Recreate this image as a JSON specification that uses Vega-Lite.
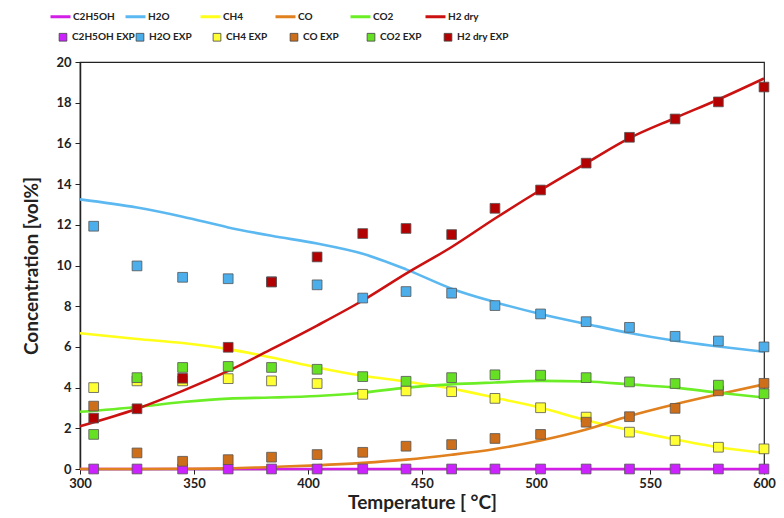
{
  "$schema": "https://vega.github.io/schema/vega-lite/v6.json",
  "width": 684,
  "height": 407,
  "autosize": "none",
  "padding": {"left": 80, "top": 62, "right": 20, "bottom": 49},
  "background": "white",
  "config": {
    "view": {"stroke": "#222", "strokeWidth": 1.2},
    "font": "Lato"
  },
  "datasets": {
    "model": [
      {"T": 300, "v": 0, "s": "C2H5OH"}, {"T": 450, "v": 0, "s": "C2H5OH"}, {"T": 600, "v": 0, "s": "C2H5OH"},
      {"T": 300, "v": 13.25, "s": "H2O"}, {"T": 325, "v": 12.85, "s": "H2O"}, {"T": 345, "v": 12.4, "s": "H2O"}, {"T": 365, "v": 11.87, "s": "H2O"}, {"T": 384, "v": 11.46, "s": "H2O"}, {"T": 404, "v": 11.08, "s": "H2O"}, {"T": 424, "v": 10.58, "s": "H2O"}, {"T": 443, "v": 9.81, "s": "H2O"}, {"T": 463, "v": 8.86, "s": "H2O"}, {"T": 482, "v": 8.2, "s": "H2O"}, {"T": 502, "v": 7.62, "s": "H2O"}, {"T": 522, "v": 7.13, "s": "H2O"}, {"T": 541, "v": 6.68, "s": "H2O"}, {"T": 561, "v": 6.3, "s": "H2O"}, {"T": 580, "v": 6.02, "s": "H2O"}, {"T": 600, "v": 5.76, "s": "H2O"},
      {"T": 300, "v": 6.67, "s": "CH4"}, {"T": 325, "v": 6.39, "s": "CH4"}, {"T": 345, "v": 6.19, "s": "CH4"}, {"T": 365, "v": 5.89, "s": "CH4"}, {"T": 384, "v": 5.48, "s": "CH4"}, {"T": 404, "v": 4.99, "s": "CH4"}, {"T": 424, "v": 4.58, "s": "CH4"}, {"T": 443, "v": 4.3, "s": "CH4"}, {"T": 463, "v": 3.95, "s": "CH4"}, {"T": 482, "v": 3.5, "s": "CH4"}, {"T": 502, "v": 3.01, "s": "CH4"}, {"T": 522, "v": 2.4, "s": "CH4"}, {"T": 541, "v": 1.91, "s": "CH4"}, {"T": 561, "v": 1.45, "s": "CH4"}, {"T": 580, "v": 1.07, "s": "CH4"}, {"T": 600, "v": 0.79, "s": "CH4"},
      {"T": 300, "v": 0, "s": "CO"}, {"T": 325, "v": 0, "s": "CO"}, {"T": 345, "v": 0.01, "s": "CO"}, {"T": 365, "v": 0.03, "s": "CO"}, {"T": 384, "v": 0.1, "s": "CO"}, {"T": 404, "v": 0.18, "s": "CO"}, {"T": 424, "v": 0.3, "s": "CO"}, {"T": 443, "v": 0.46, "s": "CO"}, {"T": 463, "v": 0.7, "s": "CO"}, {"T": 482, "v": 0.98, "s": "CO"}, {"T": 502, "v": 1.4, "s": "CO"}, {"T": 522, "v": 1.94, "s": "CO"}, {"T": 541, "v": 2.6, "s": "CO"}, {"T": 561, "v": 3.18, "s": "CO"}, {"T": 580, "v": 3.67, "s": "CO"}, {"T": 600, "v": 4.16, "s": "CO"},
      {"T": 300, "v": 2.81, "s": "CO2"}, {"T": 325, "v": 3.05, "s": "CO2"}, {"T": 345, "v": 3.29, "s": "CO2"}, {"T": 365, "v": 3.46, "s": "CO2"}, {"T": 384, "v": 3.51, "s": "CO2"}, {"T": 404, "v": 3.59, "s": "CO2"}, {"T": 424, "v": 3.75, "s": "CO2"}, {"T": 443, "v": 4.0, "s": "CO2"}, {"T": 463, "v": 4.16, "s": "CO2"}, {"T": 482, "v": 4.25, "s": "CO2"}, {"T": 502, "v": 4.33, "s": "CO2"}, {"T": 522, "v": 4.3, "s": "CO2"}, {"T": 541, "v": 4.16, "s": "CO2"}, {"T": 561, "v": 4.0, "s": "CO2"}, {"T": 580, "v": 3.75, "s": "CO2"}, {"T": 600, "v": 3.51, "s": "CO2"},
      {"T": 300, "v": 2.1, "s": "H2 dry"}, {"T": 325, "v": 2.96, "s": "H2 dry"}, {"T": 345, "v": 3.84, "s": "H2 dry"}, {"T": 365, "v": 4.82, "s": "H2 dry"}, {"T": 384, "v": 5.89, "s": "H2 dry"}, {"T": 404, "v": 7.05, "s": "H2 dry"}, {"T": 424, "v": 8.28, "s": "H2 dry"}, {"T": 443, "v": 9.6, "s": "H2 dry"}, {"T": 463, "v": 10.91, "s": "H2 dry"}, {"T": 482, "v": 12.31, "s": "H2 dry"}, {"T": 502, "v": 13.71, "s": "H2 dry"}, {"T": 522, "v": 15.03, "s": "H2 dry"}, {"T": 541, "v": 16.26, "s": "H2 dry"}, {"T": 561, "v": 17.25, "s": "H2 dry"}, {"T": 580, "v": 18.16, "s": "H2 dry"}, {"T": 600, "v": 19.19, "s": "H2 dry"}
    ],
    "exp": [
      {"T": 306, "C2H5OH": 0, "H2O": 11.93, "CH4": 4.0, "CO": 3.09, "CO2": 1.7, "H2": 2.5},
      {"T": 325, "C2H5OH": 0, "H2O": 9.98, "CH4": 4.33, "CO": 0.79, "CO2": 4.49, "H2": 2.96},
      {"T": 345, "C2H5OH": 0, "H2O": 9.42, "CH4": 4.33, "CO": 0.38, "CO2": 4.99, "H2": 4.46},
      {"T": 365, "C2H5OH": 0, "H2O": 9.35, "CH4": 4.44, "CO": 0.46, "CO2": 5.04, "H2": 5.98},
      {"T": 384, "C2H5OH": 0, "H2O": 9.2, "CH4": 4.33, "CO": 0.58, "CO2": 4.99, "H2": 9.19},
      {"T": 404, "C2H5OH": 0, "H2O": 9.05, "CH4": 4.2, "CO": 0.71, "CO2": 4.9, "H2": 10.42},
      {"T": 424, "C2H5OH": 0, "H2O": 8.4, "CH4": 3.67, "CO": 0.82, "CO2": 4.54, "H2": 11.57},
      {"T": 443, "C2H5OH": 0, "H2O": 8.72, "CH4": 3.84, "CO": 1.12, "CO2": 4.31, "H2": 11.82},
      {"T": 463, "C2H5OH": 0, "H2O": 8.64, "CH4": 3.8, "CO": 1.2, "CO2": 4.49, "H2": 11.52},
      {"T": 482, "C2H5OH": 0, "H2O": 8.03, "CH4": 3.47, "CO": 1.5, "CO2": 4.63, "H2": 12.81},
      {"T": 502, "C2H5OH": 0, "H2O": 7.62, "CH4": 3.01, "CO": 1.7, "CO2": 4.61, "H2": 13.71},
      {"T": 522, "C2H5OH": 0, "H2O": 7.24, "CH4": 2.55, "CO": 2.3, "CO2": 4.49, "H2": 15.03},
      {"T": 541, "C2H5OH": 0, "H2O": 6.96, "CH4": 1.81, "CO": 2.57, "CO2": 4.28, "H2": 16.3},
      {"T": 561, "C2H5OH": 0, "H2O": 6.52, "CH4": 1.4, "CO": 2.98, "CO2": 4.2, "H2": 17.2},
      {"T": 580, "C2H5OH": 0, "H2O": 6.29, "CH4": 1.07, "CO": 3.84, "CO2": 4.12, "H2": 18.04},
      {"T": 600, "C2H5OH": 0, "H2O": 6.0, "CH4": 0.99, "CO": 4.21, "CO2": 3.7, "H2": 18.77}
    ]
  },
  "encoding": {
    "x": {
      "field": "T", "type": "quantitative",
      "scale": {"domain": [300, 600], "nice": false, "zero": false},
      "axis": {
        "title": "Temperature [ °C]", "values": [300, 350, 400, 450, 500, 550, 600], "labelFlush": false,
        "grid": false, "domainColor": "#222", "domainWidth": 1.5, "tickColor": "#222", "tickSize": 5,
        "labelFont": "Lato", "labelFontSize": 13, "labelFontWeight": "bold", "labelColor": "#222", "labelPadding": 3,
        "titleFont": "Lato", "titleFontSize": 19, "titleFontWeight": "bold", "titleColor": "#222", "titlePadding": 3
      }
    },
    "y": {
      "field": "v", "type": "quantitative",
      "scale": {"domain": [0, 20], "nice": false},
      "axis": {
        "title": "Concentration [vol%]", "values": [0, 2, 4, 6, 8, 10, 12, 14, 16, 18, 20], "labelFlush": false,
        "grid": false, "domainColor": "#222", "domainWidth": 1.5, "tickColor": "#222", "tickSize": 5,
        "labelFont": "Lato", "labelFontSize": 13, "labelFontWeight": "bold", "labelColor": "#222", "labelPadding": 4,
        "titleFont": "Lato", "titleFontSize": 19, "titleFontWeight": "bold", "titleColor": "#222", "titlePadding": 14
      }
    }
  },
  "layer": [
    {
      "data": {"name": "model"},
      "mark": {"type": "line", "strokeWidth": 2.6, "interpolate": "monotone"},
      "encoding": {
        "stroke": {
          "field": "s", "type": "nominal",
          "scale": {"domain": ["C2H5OH", "H2O", "CH4", "CO", "CO2", "H2 dry"], "range": ["#D21EE6", "#5CB8F0", "#FFFF1A", "#E0801E", "#6CEE26", "#CC1111"]},
          "legend": {
            "title": null, "orient": "none", "legendX": -31, "legendY": -57, "direction": "horizontal", "columns": 6, "gridAlign": "all",
            "columnPadding": 4, "symbolType": "stroke", "symbolSize": 400, "symbolStrokeWidth": 3, "labelOffset": 1,
            "labelFont": "Lato", "labelFontSize": 10, "labelFontWeight": "bold", "labelColor": "#222"
          }
        },
        "order": {"field": "T"}
      }
    },
    {
      "data": {"name": "exp"},
      "transform": [
        {"fold": ["C2H5OH", "H2O", "CH4", "CO", "CO2", "H2"], "as": ["sp", "v"]},
        {"calculate": "datum.sp === 'H2' ? 'H2 dry EXP' : datum.sp + ' EXP'", "as": "series"}
      ],
      "mark": {"type": "point", "shape": "square", "filled": true, "size": 95, "stroke": "#555", "strokeWidth": 0.8, "opacity": 1},
      "encoding": {
        "fill": {
          "field": "series", "type": "nominal",
          "scale": {"domain": ["C2H5OH EXP", "H2O EXP", "CH4 EXP", "CO EXP", "CO2 EXP", "H2 dry EXP"], "range": ["#CC22FF", "#4CAEEA", "#FFFF33", "#CC6E1A", "#66E022", "#B30000"]},
          "legend": {
            "title": null, "orient": "none", "legendX": -22, "legendY": -30, "direction": "horizontal", "columns": 6, "gridAlign": "all",
            "columnPadding": -8.3, "symbolType": "square", "symbolSize": 60, "symbolStrokeColor": "#444", "symbolStrokeWidth": 0.8, "labelOffset": 4,
            "labelFont": "Lato", "labelFontSize": 10, "labelFontWeight": "bold", "labelColor": "#222"
          }
        }
      }
    }
  ]
}
